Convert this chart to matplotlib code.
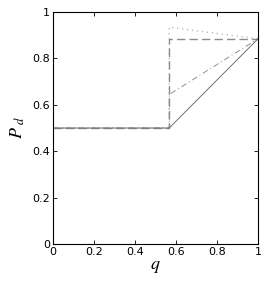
import matplotlib
matplotlib.use("Agg")
import matplotlib.pyplot as plt

plt.rcParams["mathtext.fontset"] = "stix"

knee = 0.567
q_solid = [0, knee, 1.0]
p_solid = [0.5, 0.5, 0.885]
q_dashdot = [0, knee, knee, 1.0]
p_dashdot = [0.5, 0.5, 0.645, 0.885]
q_dashed = [0, knee, knee, 1.0]
p_dashed = [0.5, 0.5, 0.885, 0.885]
q_dotted = [0, knee, knee, 1.0]
p_dotted = [0.5, 0.5, 0.935, 0.885]

xticks = [0, 0.2, 0.4, 0.6, 0.8, 1]
yticks = [0, 0.2, 0.4, 0.6, 0.8, 1]

fig = plt.figure(figsize=(2.66, 2.82), dpi=100)
ax = fig.add_axes([0.199, 0.135, 0.771, 0.822])

ax.plot(q_dotted, p_dotted, color="#b0b0b0", lw=0.9, ls=(0, (1, 3)))
ax.plot(q_dashed, p_dashed, color="#8a8a8a", lw=1.0, ls=(0, (6, 3)))
ax.plot(q_dashdot, p_dashdot, color="#909090", lw=0.7, ls=(0, (6, 3, 1, 3)))
ax.plot(q_solid, p_solid, color="#707070", lw=0.7, ls="-")

ax.set_xlim(0, 1)
ax.set_ylim(0, 1)
ax.set_xticks(xticks)
ax.set_yticks(yticks)
ax.set_xticklabels(["0", "0.2", "0.4", "0.6", "0.8", "1"])
ax.set_yticklabels(["0", "0.2", "0.4", "0.6", "0.8", "1"])
ax.tick_params(direction="in", top=True, right=True, labelsize=8, length=3, width=0.6, pad=2)
for s in ax.spines.values():
    s.set_linewidth(0.8)

ax.set_xlabel(r"$q$", fontsize=13, labelpad=0)
ax.set_ylabel(r"$P_{\ d}$", fontsize=13, labelpad=4)

fig.savefig("out.png", dpi=100)
